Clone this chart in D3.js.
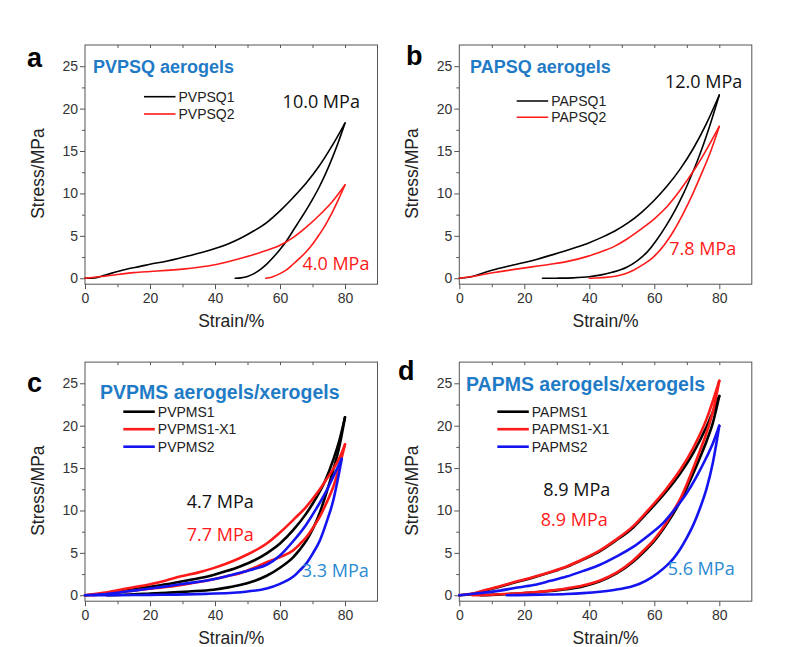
<!DOCTYPE html>
<html>
<head>
<meta charset="utf-8">
<script src="https://cdn.jsdelivr.net/npm/d3@7/dist/d3.min.js"></script>
<style>
  body { margin: 0; background: #fff; }
  svg text { font-family: "Liberation Sans", Arial, sans-serif; }
</style>
</head>
<body>
<div id="graph"></div>
<script>
// ---- tick values ----
var strainTicks = [0, 20, 40, 60, 80];
var strainMinor = [10, 30, 50, 70];
var topTicks = [10, 20, 30, 40, 50, 60, 70, 80];
var stressTicks = [0, 5, 10, 15, 20, 25];
var stressMinor = [2.5, 7.5, 12.5, 17.5, 22.5];

// ---- texts ----
var panelLetters = ["a", "b", "c", "d"];
var panelTitles = ["PVPSQ aerogels", "PAPSQ aerogels", "PVPMS aerogels/xerogels", "PAPMS aerogels/xerogels"];
var namesA = ["PVPSQ1", "PVPSQ2"];
var namesB = ["PAPSQ1", "PAPSQ2"];
var namesC = ["PVPMS1", "PVPMS1-X1", "PVPMS2"];
var namesD = ["PAPMS1", "PAPMS1-X1", "PAPMS2"];
var modulusA = ["10.0 MPa", "4.0 MPa"];
var modulusB = ["12.0 MPa", "7.8 MPa"];
var modulusC = ["4.7 MPa", "7.7 MPa", "3.3 MPa"];
var modulusD = ["8.9 MPa", "8.9 MPa", "5.6 MPa"];

// ---- curves [strain %, stress MPa] ----
// a
var pvpsq1Load = [[0,0],[3,0.05],[6,0.35],[10,0.8],[13,1.1],[17,1.4],[20,1.65],[25,2.0],[29,2.35],[33,2.75],[37,3.15],[40,3.5],[44,4.05],[48,4.75],[52,5.6],[56,6.6],[60,7.95],[64,9.5],[68,11.2],[72,13.2],[76,15.6],[80,18.3]];
var pvpsq1Unload = [[80,18.3],[78,16.1],[76,14.1],[74,12.3],[72,10.7],[70,9.3],[68,8.0],[66,6.8],[64,5.6],[62,4.4],[60,3.4],[58,2.5],[56,1.7],[54,1.05],[52,0.55],[50,0.22],[48,0.05],[46.2,0]];
var pvpsq2Load = [[0,0],[5,0.2],[10,0.45],[15,0.66],[20,0.8],[25,0.93],[30,1.08],[35,1.3],[40,1.6],[44,1.95],[48,2.35],[52,2.8],[56,3.3],[60,3.9],[64,4.8],[68,6.0],[72,7.4],[76,9.0],[80,11.0]];
var pvpsq2Unload = [[80,11.0],[78,9.3],[76,7.7],[74,6.3],[72,5.1],[70,4.0],[68,3.1],[66,2.35],[64,1.65],[62,1.0],[60,0.55],[58,0.22],[56.5,0.05],[55.6,0]];
// b
var papsq1Load = [[0,0],[4,0.2],[8,0.7],[12,1.15],[16,1.5],[20,1.85],[24,2.25],[28,2.7],[32,3.15],[36,3.65],[40,4.2],[44,4.85],[48,5.6],[52,6.55],[56,7.75],[60,9.2],[64,10.9],[68,12.9],[72,15.3],[76,18.2],[80,21.6]];
var papsq1Unload = [[80,21.6],[77,17.9],[74,14.6],[71.5,12.2],[69,10.0],[66.5,8.1],[63.8,6.3],[60.5,4.4],[57.7,3.05],[54.5,2.0],[51.5,1.3],[47,0.7],[43.3,0.37],[40,0.18],[35,0.05],[30,0.01],[25.6,0]];
var papsq2Load = [[0,0],[4,0.2],[8,0.5],[12.5,0.78],[17,1.05],[22.8,1.37],[28,1.65],[33,1.96],[39.2,2.55],[43,3.05],[47.4,3.7],[51.5,4.6],[55.6,5.7],[60,7.0],[63.8,8.4],[67,9.9],[70,11.5],[73,13.2],[76.1,15.2],[80,17.9]];
var papsq2Unload = [[80,17.9],[77.1,14.7],[74.5,12.3],[72,10.1],[69,7.7],[66,5.6],[63,3.9],[59.7,2.5],[56.5,1.6],[53.6,0.95],[50.8,0.5],[48.4,0.27],[45,0.1],[42,0.03],[40,0]];
// c
var pvpms1Load = [[0,0],[5,0.15],[10,0.4],[15,0.7],[20,1.0],[25,1.3],[29.2,1.6],[35,2.0],[39.5,2.4],[43.5,2.85],[47.7,3.4],[52,4.1],[55.9,4.95],[60,6.1],[64.1,7.7],[68,9.6],[71.3,11.6],[74,13.6],[76.4,16.0],[78.3,18.3],[80,21.0]];
var pvpms1Unload = [[80,21.0],[78.3,17.6],[76.4,14.8],[74.3,12.1],[72.3,9.8],[70.2,7.9],[68.2,6.5],[66,5.35],[64.1,4.5],[60,3.25],[55.9,2.3],[51.8,1.65],[47.7,1.2],[43.6,0.9],[39.5,0.66],[32,0.45],[25.2,0.3],[20,0.2],[15,0.1],[10,0.04],[6.7,0]];
var pvpms1x1Load = [[0,0],[5,0.25],[10,0.6],[15,0.95],[20,1.3],[25,1.75],[29.2,2.2],[35,2.7],[39.5,3.2],[43.6,3.75],[47.7,4.4],[52,5.2],[55.9,6.1],[60,7.4],[64.1,8.9],[68,10.4],[71.3,12.0],[74,13.5],[76.4,14.9],[78.3,16.2],[80,17.8]];
var pvpms1x1Unload = [[80,17.8],[78.3,15.2],[76.4,12.8],[74.3,10.9],[72.3,9.3],[70.2,8.0],[68.2,6.9],[66,6.0],[64.1,5.3],[60,4.5],[55.9,3.9],[51.8,3.2],[47.7,2.6],[43.6,2.25],[39.5,1.9],[34,1.5],[29.2,1.2],[22,0.85],[15,0.55],[8,0.25],[3,0.05],[2,0]];
var pvpms2Load = [[0,0],[5,0.1],[10,0.3],[15,0.55],[20,0.8],[25,1.05],[29.2,1.3],[35,1.6],[39.5,1.9],[43.6,2.25],[47.7,2.65],[52,3.1],[55.9,3.6],[60,4.7],[64.1,6.4],[68,8.3],[71.3,10.3],[74,12.1],[76.4,14.0],[79,16.1]];
var pvpms2Unload = [[79,16.1],[77.7,13.5],[76.4,11.2],[74.3,8.6],[72.3,6.5],[70.2,5.0],[68.2,3.8],[66,2.9],[64.1,2.2],[60,1.35],[55.9,0.8],[50,0.45],[45.6,0.3],[38,0.18],[31.3,0.1],[20,0.05],[10,0.02],[2.6,0]];
// d
var papms1Load = [[0,0],[4,0.15],[7.4,0.5],[12.5,1.0],[17,1.5],[22.8,2.1],[28,2.7],[33,3.35],[38,4.2],[43.3,5.2],[48,6.4],[53.5,8.0],[58,9.8],[63.8,12.3],[68,14.4],[72,16.8],[76.1,19.9],[80,23.5]];
var papms1Unload = [[80,23.5],[78,20.3],[76.1,18.2],[74,16.2],[72,14.4],[70,12.7],[67.9,11.0],[65.8,9.6],[63.8,8.4],[60,6.4],[56.5,5.0],[53.5,3.95],[48.5,2.6],[43.3,1.65],[38,1.05],[33,0.72],[28,0.5],[22.8,0.32],[16,0.16],[10,0.05],[6.5,0]];
var papms1x1Load = [[0,0],[4,0.2],[7.4,0.55],[12.5,1.05],[17,1.55],[22.8,2.15],[28,2.75],[33,3.4],[38,4.25],[43.3,5.3],[48,6.5],[53.5,8.15],[58,10.0],[63.8,12.6],[68,14.8],[72,17.4],[76.1,20.8],[80,25.3]];
var papms1x1Unload = [[80,25.3],[78,21.6],[76.1,19.2],[74,17.0],[72,15.0],[70,13.1],[67.9,11.3],[65.8,9.9],[63.8,8.6],[60,6.6],[56.5,5.2],[53.5,4.1],[48.5,2.7],[43.3,1.75],[38,1.15],[33,0.8],[28,0.55],[22.8,0.35],[16,0.18],[10,0.06],[4,0]];
var papms2Load = [[0,0],[5,0.2],[12.5,0.55],[17,0.85],[22.8,1.2],[28,1.7],[33,2.2],[38,2.85],[43.3,3.6],[48,4.5],[53.5,5.7],[58,7.0],[62.7,8.5],[66,10.0],[69.9,12.0],[73,14.0],[76.1,16.3],[78,17.9],[80,20.0]];
var papms2Unload = [[80,20.0],[78,15.6],[76.1,12.6],[74,10.2],[72,8.3],[69.9,6.7],[67.9,5.4],[65.8,4.3],[63.8,3.5],[61,2.6],[58.7,2.0],[56,1.45],[53.5,1.1],[48,0.65],[43.3,0.42],[38,0.25],[33,0.15],[25,0.07],[14.6,0]];

var BLACK = "#000000", RED = "#ff1a1a", BLUE = "#1414f0";
var TITLE_BLUE = "#1f7bc6", NOTE_BLUE = "#2a8ad2";

var w = 794, h = 647;
var plotW = 292.5;

var svg = d3.select("#graph")
  .append("svg")
  .attr("width", w)
  .attr("height", h);

var panels = [
  { left: 85, top: 45, bottom: 284.2, letterX: 27, letterY: 67, titleX: 93, titleY: 73, titleSize: 18,
    legendX: 144, legendY: 96.7, legendGap: 17.3, lw: 1.6,
    series: [
      { name: namesA[0], color: BLACK, load: pvpsq1Load, unload: pvpsq1Unload },
      { name: namesA[1], color: RED, load: pvpsq2Load, unload: pvpsq2Unload }],
    notes: [
      { text: modulusA[0], color: "#111", at: [60.8, 20.04] },
      { text: modulusA[1], color: RED, at: [66.9, 0.97] }] },
  { left: 459.3, top: 45, bottom: 284.2, letterX: 406, letterY: 65, titleX: 470, titleY: 73, titleSize: 18,
    legendX: 516.7, legendY: 101, legendGap: 16.3, lw: 1.6,
    series: [
      { name: namesB[0], color: BLACK, load: papsq1Load, unload: papsq1Unload },
      { name: namesB[1], color: RED, load: papsq2Load, unload: papsq2Unload }],
    notes: [
      { text: modulusB[0], color: "#111", at: [63.3, 22.47] },
      { text: modulusB[1], color: RED, at: [64.6, 2.74] }] },
  { left: 85, top: 362.1, bottom: 601.2, letterX: 27, letterY: 392, titleX: 100, titleY: 399, titleSize: 19.5,
    legendX: 123.3, legendY: 411.7, legendGap: 17.5, lw: 2.6,
    series: [
      { name: namesC[0], color: BLACK, load: pvpms1Load, unload: pvpms1Unload },
      { name: namesC[1], color: RED, load: pvpms1x1Load, unload: pvpms1x1Unload },
      { name: namesC[2], color: BLUE, load: pvpms2Load, unload: pvpms2Unload }],
    notes: [
      { text: modulusC[0], color: "#111", at: [31.3, 10.26] },
      { text: modulusC[1], color: RED, at: [31.3, 6.44] },
      { text: modulusC[2], color: NOTE_BLUE, at: [66.7, 2.19] }] },
  { left: 459.3, top: 362.1, bottom: 601.2, letterX: 398, letterY: 380, titleX: 466, titleY: 391, titleSize: 19.5,
    legendX: 497.3, legendY: 411.7, legendGap: 17.5, lw: 2.6,
    series: [
      { name: namesD[0], color: BLACK, load: papms1Load, unload: papms1Unload },
      { name: namesD[1], color: RED, load: papms1x1Load, unload: papms1x1Unload },
      { name: namesD[2], color: BLUE, load: papms2Load, unload: papms2Unload }],
    notes: [
      { text: modulusD[0], color: "#111", at: [25.85, 11.71] },
      { text: modulusD[1], color: RED, at: [25.05, 8.17] },
      { text: modulusD[2], color: NOTE_BLUE, at: [64.1, 2.39] }] }
];

panels.forEach(function (p, i) {
  drawPanel(p, i);
});

function styleAxis(g) {
  g.select(".domain").remove();
  g.selectAll("line").attr("stroke", "#555");
  g.selectAll("text")
    .attr("fill", "#333")
    .style("font-family", "'Liberation Sans', Arial, sans-serif")
    .style("font-size", "14px");
}

function drawPanel(p, i) {
  var xScale = d3.scaleLinear()
    .domain([0, 90])
    .range([p.left, p.left + plotW]);
  var yScale = d3.scaleLinear()
    .domain([-0.7, 27.5])
    .range([p.bottom, p.top]);

  var g = svg.append("g").attr("class", "panel");

  // axes
  g.append("g")
    .attr("transform", "translate(0," + p.bottom + ")")
    .call(d3.axisBottom(xScale).tickValues(strainTicks).tickSize(5).tickPadding(4))
    .call(styleAxis);
  g.append("g")
    .attr("transform", "translate(0," + p.bottom + ")")
    .call(d3.axisBottom(xScale).tickValues(strainMinor).tickSize(3).tickFormat(""))
    .call(styleAxis);
  g.append("g")
    .attr("transform", "translate(0," + p.top + ")")
    .call(d3.axisTop(xScale).tickValues(topTicks).tickSize(-3).tickFormat(""))
    .call(styleAxis);
  g.append("g")
    .attr("transform", "translate(" + p.left + ",0)")
    .call(d3.axisLeft(yScale).tickValues(stressTicks).tickSize(5).tickPadding(2))
    .call(styleAxis);
  g.append("g")
    .attr("transform", "translate(" + p.left + ",0)")
    .call(d3.axisLeft(yScale).tickValues(stressMinor).tickSize(3).tickFormat(""))
    .call(styleAxis);

  g.append("rect")
    .attr("x", p.left)
    .attr("y", p.top)
    .attr("width", plotW)
    .attr("height", p.bottom - p.top)
    .attr("fill", "none")
    .attr("stroke", "#555")
    .attr("stroke-width", 1);

  // axis titles
  g.append("text")
    .attr("x", (p.left + p.left + plotW) / 2)
    .attr("y", p.bottom + 42.5)
    .attr("text-anchor", "middle")
    .attr("fill", "#222")
    .style("font-size", "17.5px")
    .text("Strain/%");

  g.append("text")
    .attr("transform", "translate(" + (p.left - 41.5) + "," + ((p.top + p.bottom) / 2 + 9) + ") rotate(-90)")
    .attr("text-anchor", "middle")
    .attr("fill", "#222")
    .style("font-size", "17.5px")
    .text("Stress/MPa");

  // curves (points sorted by strain so monotoneX can smooth them)
  var line = d3.line()
    .x(function (d) { return xScale(d[0]); })
    .y(function (d) { return yScale(d[1]); })
    .curve(d3.curveMonotoneX);

  p.series.forEach(function (s) {
    [s.load, s.unload].forEach(function (arr) {
      var pts = arr.slice().sort(function (a, b) { return a[0] - b[0]; });
      g.append("path")
        .datum(pts)
        .attr("d", line)
        .attr("fill", "none")
        .attr("stroke", s.color)
        .attr("stroke-width", p.lw)
        .attr("stroke-linejoin", "round")
        .attr("stroke-linecap", "round");
    });
  });

  // legend
  var leg = g.selectAll(".leg")
    .data(p.series)
    .enter()
    .append("g")
    .attr("class", "leg");
  leg.append("line")
    .attr("x1", p.legendX)
    .attr("x2", p.legendX + 31.5)
    .attr("y1", function (d, k) { return p.legendY + k * p.legendGap; })
    .attr("y2", function (d, k) { return p.legendY + k * p.legendGap; })
    .attr("stroke", function (d) { return d.color; })
    .attr("stroke-width", p.lw);
  leg.append("text")
    .attr("x", p.legendX + 34.5)
    .attr("y", function (d, k) { return p.legendY + k * p.legendGap + 5; })
    .attr("fill", "#222")
    .style("font-size", "14px")
    .text(function (d) { return d.name; });

  // modulus notes
  g.selectAll(".note")
    .data(p.notes)
    .enter()
    .append("text")
    .attr("class", "note")
    .attr("x", function (d) { return xScale(d.at[0]); })
    .attr("y", function (d) { return yScale(d.at[1]); })
    .attr("fill", function (d) { return d.color; })
    .style("font-family", "'Open Sans', sans-serif")
    .style("font-size", "18px")
    .text(function (d) { return d.text; });

  // title + letter
  g.append("text")
    .attr("x", p.titleX)
    .attr("y", p.titleY)
    .attr("fill", TITLE_BLUE)
    .style("font-weight", "bold")
    .style("font-size", p.titleSize + "px")
    .text(panelTitles[i]);

  g.append("text")
    .attr("x", p.letterX)
    .attr("y", p.letterY)
    .attr("fill", "#000")
    .style("font-weight", "bold")
    .style("font-size", "27px")
    .text(panelLetters[i]);
}
</script>
</body>
</html>
